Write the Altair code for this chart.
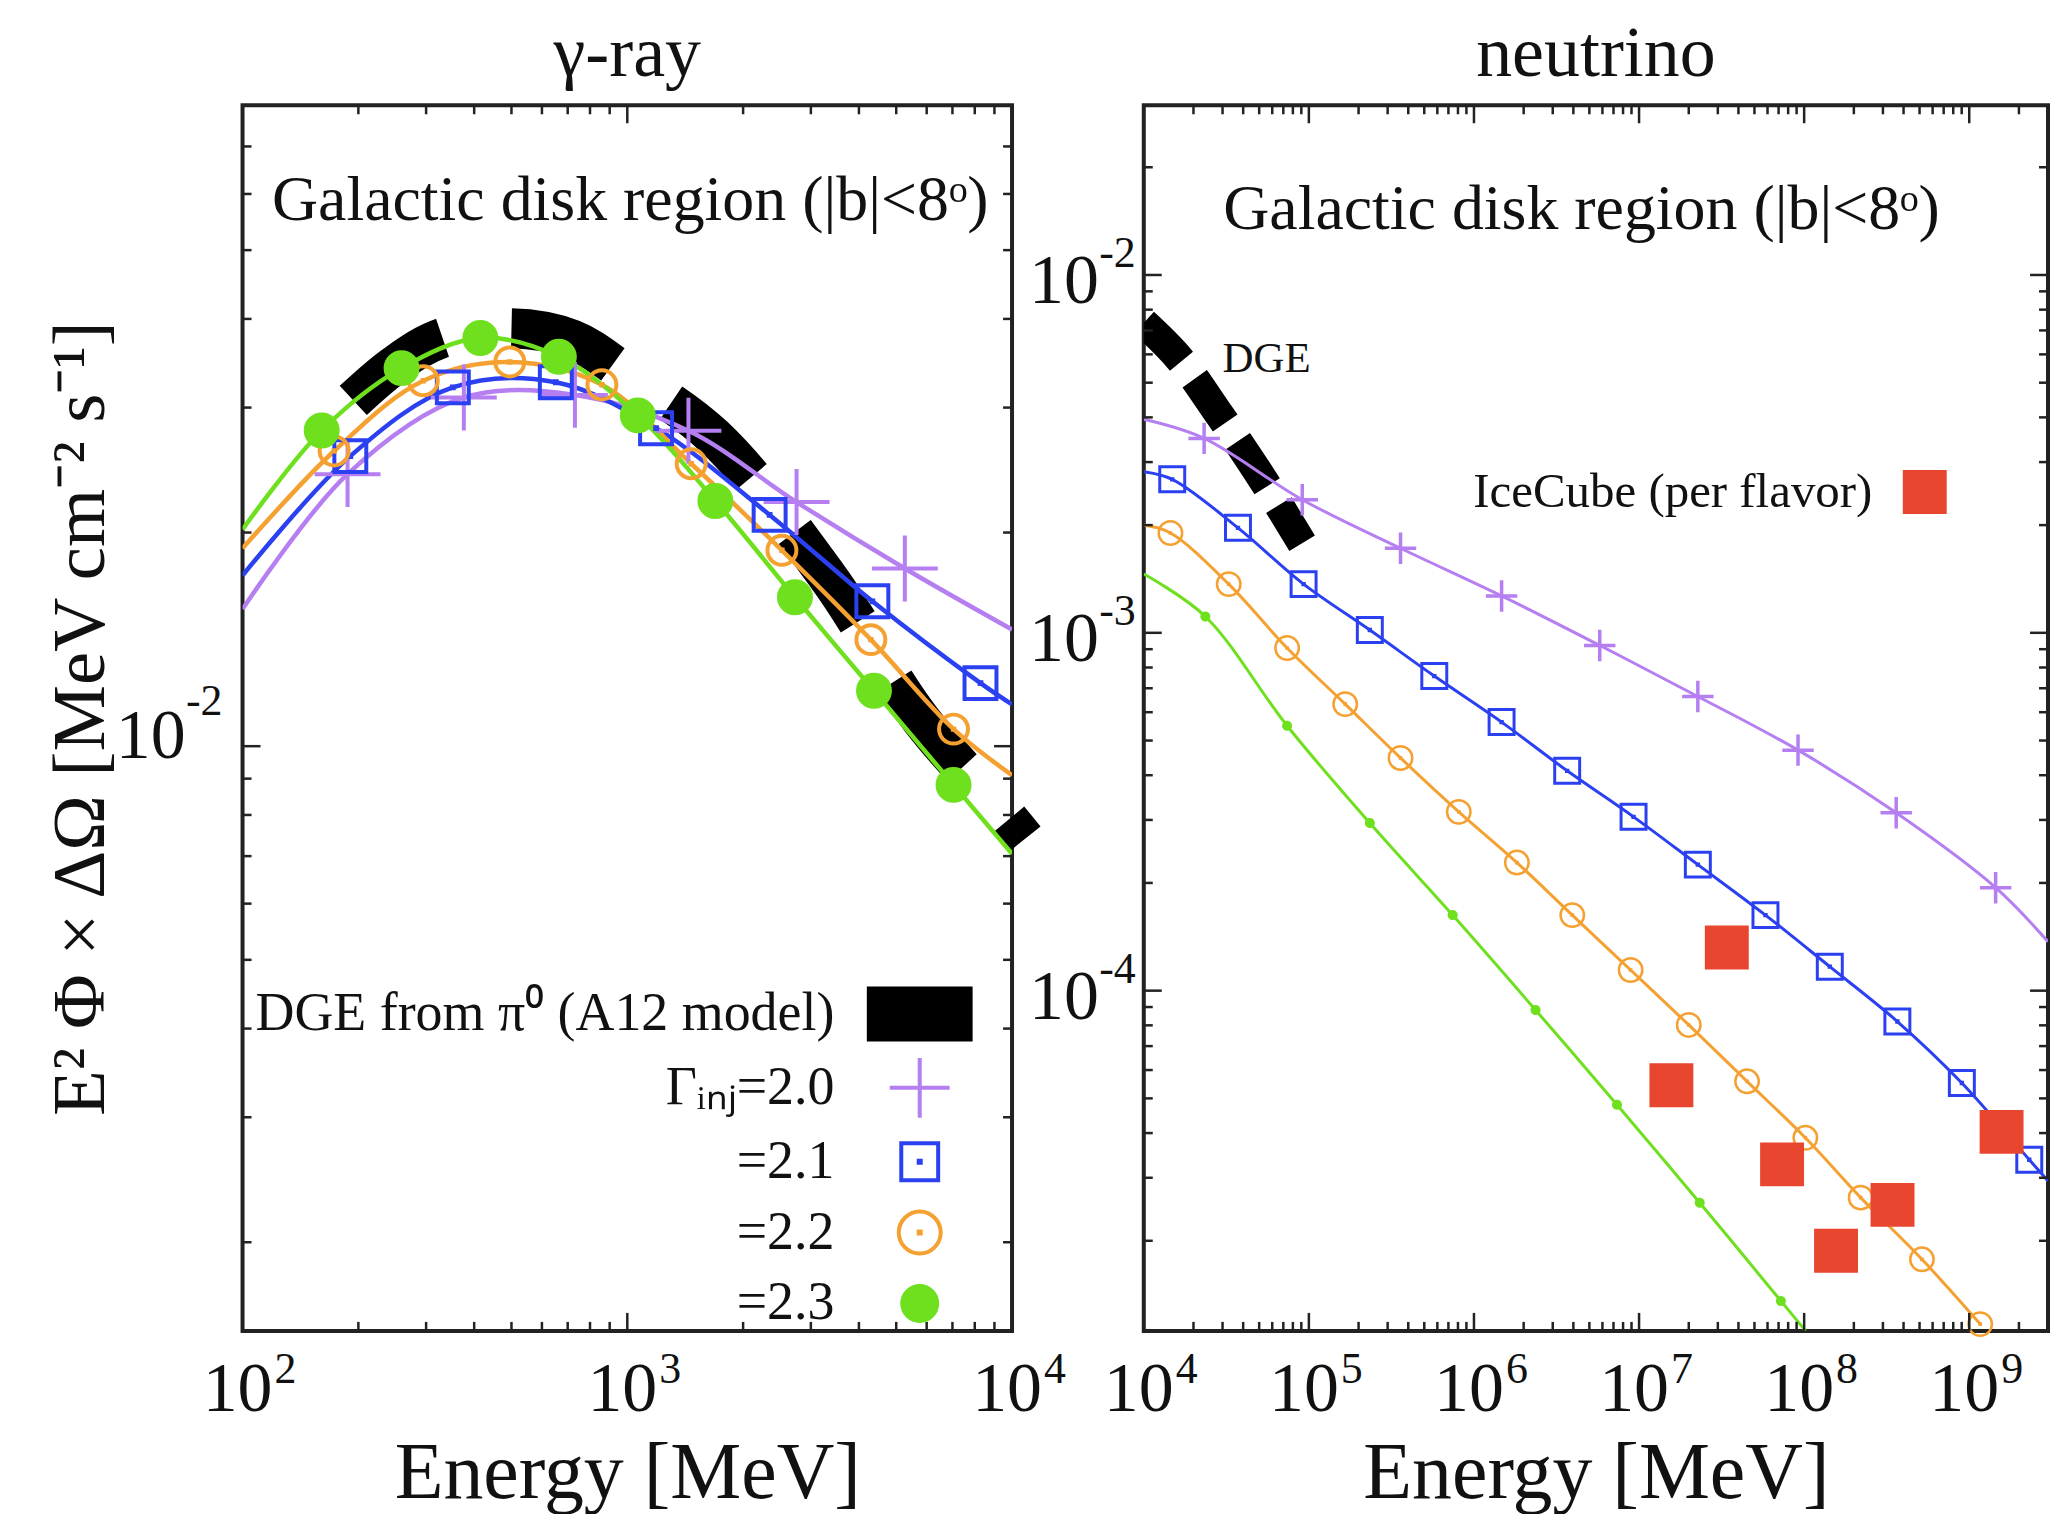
import altair as alt
import pandas as pd

SERIF = "Liberation Serif"
INK = "#111111"
FRAME = "#222222"
BLACK = "#000000"
PURPLE = "#b57ff2"
BLUE = "#2b40f0"
ORANGE = "#f5a132"
GREEN = "#6ee01e"
RED = "#e8462e"

WL, HL = 771, 1228
WR, HR = 906, 1228

# ---------------- gamma-ray panel ----------------
g20_E = [187.5, 376, 731, 1442, 2754, 5265]
g20_V = [0.02417, 0.0310, 0.03126, 0.02783, 0.02208, 0.0178]
g21_E = [190.6, 352, 652, 1188, 2344, 4335, 8280]
g21_V = [0.02563, 0.03203, 0.03257, 0.02806, 0.02118, 0.0160, 0.01227]
g22_E = [173, 295, 495, 859, 1466, 2523, 4296, 7046]
g22_V = [0.02606, 0.03273, 0.03479, 0.0323, 0.0250, 0.01888, 0.01413, 0.01057]
g23_E = [160.6, 259, 415, 664, 1065, 1694, 2728, 4377, 7046]
g23_V = [0.02785, 0.0341, 0.0376, 0.03537, 0.02925, 0.02216, 0.01621, 0.01197, 0.00882]
# where the curves meet the frame
g_edge_E = [100, 10000]
g20_edge_V = [0.0156, 0.0146]
g21_edge_V = [0.0174, 0.01145]
g22_edge_V = [0.0190, 0.0091]
g23_edge_V = [0.0202, 0.00705]
# DGE from pi0 (A12 model), read along the dashes
dge_g_E = [194, 250, 330, 500, 720, 1000, 1680, 3300, 5800, 9600, 10800]
dge_g_V = [0.0307, 0.0345, 0.0376, 0.0388, 0.0374, 0.0334, 0.0273, 0.0174, 0.0109, 0.0080, 0.0074]

# ---------------- neutrino panel ----------------
n20_E = [2.32e4, 9.12e4, 3.59e5, 1.47e6, 5.78e6, 2.27e7, 9.18e7, 3.61e8, 1.445e9]
n20_V = [3.494e-3, 2.355e-3, 1.723e-3, 1.268e-3, 9.22e-4, 6.64e-4, 4.70e-4, 3.14e-4, 1.94e-4]
n21_E = [1.487e4, 3.72e4, 9.29e4, 2.34e5, 5.75e5, 1.47e6, 3.67e6, 9.26e6, 2.27e7, 5.83e7,
         1.43e8, 3.67e8, 9.02e8, 2.31e9]
n21_V = [2.685e-3, 1.965e-3, 1.368e-3, 1.018e-3, 7.57e-4, 5.63e-4, 4.115e-4, 3.06e-4, 2.25e-4,
         1.626e-4, 1.167e-4, 8.2e-5, 5.52e-5, 3.37e-5]
n22_E = [1.45e4, 3.27e4, 7.38e4, 1.66e5, 3.59e5, 8.09e5, 1.82e6, 3.94e6, 8.89e6, 2.0e7,
         4.51e7, 1.017e8, 2.2e8, 5.17e8, 1.165e9]
n22_V = [1.901e-3, 1.368e-3, 9.07e-4, 6.32e-4, 4.47e-4, 3.16e-4, 2.28e-4, 1.626e-4, 1.142e-4,
         8.02e-5, 5.58e-5, 3.88e-5, 2.64e-5, 1.775e-5, 1.17e-5]
n23_E = [2.36e4, 7.38e4, 2.34e5, 7.43e5, 2.36e6, 7.35e6, 2.33e7, 7.23e7]
n23_V = [1.111e-3, 5.50e-4, 2.94e-4, 1.626e-4, 8.83e-5, 4.80e-5, 2.555e-5, 1.358e-5]
# where the curves enter / leave the frame
n20_edge_E, n20_edge_V = [1e4, 3e9], [3.95e-3, 1.37e-4]
n21_edge_E, n21_edge_V = [1e4, 3e9], [2.82e-3, 2.94e-5]
n22_edge_E, n22_edge_V = [1e4], [2.0e-3]
n23_edge_E, n23_edge_V = [1e4, 1.02e8], [1.46e-3, 1.12e-5]
# IceCube (per flavor)
ice_E = [1.57e7, 3.40e7, 7.35e7, 1.56e8, 3.43e8, 1.57e9]
ice_V = [5.44e-5, 1.32e-4, 3.27e-5, 1.875e-5, 2.52e-5, 4.03e-5]
# DGE (neutrino panel)
dge_n_E = [1.0e4, 1.65e4, 2.88e4, 5.24e4, 9.1e4]
dge_n_V = [7.35e-3, 5.82e-3, 4.06e-3, 2.69e-3, 1.78e-3]

# ---------------- text ----------------
NOTE = "Galactic disk region (|b|<8ᵒ)"
note_g_E, note_g_V = [1018], [0.0551]
note_n_E, note_n_V = [4.48e6], [0.01347]
dge_lab_E, dge_lab_V = [3.0e4], [5.37e-3]
DGE_NAME = "DGE from π⁰ (A12 model)"
G_NAMES = ["Γᵢₙⱼ=2.0", "=2.1", "=2.2", "=2.3"]
ICE_NAME = "IceCube (per flavor)"

# ---------------- ticks ----------------
xg_major = [100, 1000, 10000]
xg_minor = [k * d for d in (100, 1000) for k in range(2, 10)]
yg_major = [0.01]
yg_minor = [k * 0.001 for k in range(2, 10)] + [k * 0.01 for k in range(2, 8)]
xn_major = [1e4, 1e5, 1e6, 1e7, 1e8, 1e9]
xn_minor = [k * d for d in (1e4, 1e5, 1e6, 1e7, 1e8, 1e9) for k in range(2, 10) if k * d < 3e9]
yn_major = [1e-2, 1e-3, 1e-4]
yn_minor = [k * d for d in (1e-5, 1e-4, 1e-3) for k in range(2, 10)] + [2e-2]
xg_dec, xg_exp = [100, 1000, 10000], ["2", "3", "4"]
yg_dec, yg_exp = [0.01], ["-2"]
xn_dec, xn_exp = [1e4, 1e5, 1e6, 1e7, 1e8, 1e9], ["4", "5", "6", "7", "8", "9"]
yn_dec, yn_exp = [1e-2, 1e-3, 1e-4], ["-2", "-3", "-4"]

# ---------------- scales / axes ----------------
xg_scale = alt.Scale(type="log", domain=[100, 10000], nice=False)
yg_scale = alt.Scale(type="log", domain=[1.5e-3, 8.0e-2], nice=False)
xn_scale = alt.Scale(type="log", domain=[1e4, 3e9], nice=False)
yn_scale = alt.Scale(type="log", domain=[1.12e-5, 2.98e-2], nice=False)

axc = dict(labels=False, ticks=False, domain=False, grid=False, titleFont=SERIF,
           titleFontWeight="normal", titleColor=INK, titleBaseline="alphabetic")
ax_xg = alt.Axis(title="Energy [MeV]", titleFontSize=80, titlePadding=167, **axc)
ax_xn = alt.Axis(title="Energy [MeV]", titleFontSize=80, titlePadding=167, **axc)
ax_yg = alt.Axis(title="E² Φ × ΔΩ [MeV cm⁻² s⁻¹]", titleFontSize=75, titlePadding=139, **axc)


def XG():
    return alt.X("E:Q", scale=xg_scale, axis=ax_xg)


def YG():
    return alt.Y("V:Q", scale=yg_scale, axis=ax_yg)


def XN():
    return alt.X("E:Q", scale=xn_scale, axis=ax_xn)


def YN():
    return alt.Y("V:Q", scale=yn_scale, axis=None)


def line_df(E, V, eE, eV):
    df = pd.DataFrame({"E": list(E) + list(eE), "V": list(V) + list(eV)})
    return df.sort_values("E")


def tick_layers(xs_major, xs_minor, ys_major, ys_minor, X, Y, W, H):
    out = []
    for vals, L in ((xs_major, 18), (xs_minor, 9)):
        base = alt.Chart(pd.DataFrame({"E": vals})).mark_rule(color=FRAME, strokeWidth=2.5)
        out.append(base.encode(x=X(), y=alt.value(H), y2=alt.value(H - L)))
        out.append(base.encode(x=X(), y=alt.value(0), y2=alt.value(L)))
    for vals, L in ((ys_major, 18), (ys_minor, 9)):
        base = alt.Chart(pd.DataFrame({"V": vals})).mark_rule(color=FRAME, strokeWidth=2.5)
        out.append(base.encode(y=Y(), x=alt.value(0), x2=alt.value(L)))
        out.append(base.encode(y=Y(), x=alt.value(W - L), x2=alt.value(W)))
    return out


def xlabel_layers(vals, exps, X, H):
    df = pd.DataFrame({"E": vals, "exp": exps})
    b = alt.Chart(df).mark_text(font=SERIF, fontSize=70, align="center", baseline="alphabetic",
                                color=INK, dx=-5).encode(x=X(), y=alt.value(H + 80),
                                                         text=alt.value("10"))
    s = alt.Chart(df).mark_text(font=SERIF, fontSize=44, align="left", baseline="alphabetic",
                                color=INK, dx=32).encode(x=X(), y=alt.value(H + 52), text="exp:N")
    return [b, s]


def ylabel_layers(vals, exps, Y, xb, xe, dyb, dye):
    df = pd.DataFrame({"V": vals, "exp": exps})
    b = alt.Chart(df).mark_text(font=SERIF, fontSize=70, align="right", baseline="alphabetic",
                                color=INK, dy=dyb).encode(y=Y(), x=alt.value(xb), text=alt.value("10"))
    s = alt.Chart(df).mark_text(font=SERIF, fontSize=44, align="right", baseline="alphabetic",
                                color=INK, dy=dye).encode(y=Y(), x=alt.value(xe), text="exp:N")
    return [b, s]


# symbol paths, sized for a legend symbol box of 51 px; trailing moves even out the rows
ROW = "M0,-1.05M0,1.05"
RECT_P = "M-2,-1L2,-1L2,1L-2,1Z" + ROW
PLUS_P = "M-1.176,0L1.176,0M0,-1.176L0,1.176"
SQ_P = ("M-0.725,-0.725L0.725,-0.725L0.725,0.725L-0.725,0.725Z"
        "M-0.04,-0.04L0.04,-0.04L0.04,0.04L-0.04,0.04Z" + ROW)
CIR_P = ("M0.824,0A0.824,0.824 0 1,1 -0.824,0A0.824,0.824 0 1,1 0.824,0Z"
         "M-0.04,-0.04L0.04,-0.04L0.04,0.04L-0.04,0.04Z" + ROW)
DOT_P = "M0.686,0A0.686,0.686 0 1,1 -0.686,0A0.686,0.686 0 1,1 0.686,0Z" + ROW

# ================= gamma-ray chart =================
layers_g = []
layers_g.append(
    alt.Chart(pd.DataFrame({"E": dge_g_E, "V": dge_g_V}))
    .mark_line(color=BLACK, strokeWidth=40, strokeDash=[110, 70], interpolate="catmull-rom",
               clip=False)
    .encode(x=XG(), y=YG())
)
for E, V, eV, c in ((g20_E, g20_V, g20_edge_V, PURPLE), (g21_E, g21_V, g21_edge_V, BLUE),
                    (g22_E, g22_V, g22_edge_V, ORANGE), (g23_E, g23_V, g23_edge_V, GREEN)):
    layers_g.append(
        alt.Chart(line_df(E, V, g_edge_E, eV))
        .mark_line(color=c, strokeWidth=4.5, interpolate="catmull-rom", clip=True)
        .encode(x=XG(), y=YG())
    )

pts = []
for name, E, V in zip(G_NAMES, (g20_E, g21_E, g22_E, g23_E), (g20_V, g21_V, g22_V, g23_V)):
    pts.append(pd.DataFrame({"E": E, "V": V, "series": name}))
pts_df = pd.concat(pts, ignore_index=True)
names = [DGE_NAME] + G_NAMES
leg_g = alt.Legend(title=None, orient="none", legendX=651, legendY=883, labelAlign="right",
                   labelOffset={"expr": "-113"}, labelFont=SERIF, labelFontSize=54,
                   labelColor=INK, labelLimit=2000, symbolSize=2601, symbolStrokeWidth=4,
                   symbolOpacity=1, rowPadding=0, padding=0, symbolOffset=0)
marker_px = [100, 3150, 1948, 1239, 2176]   # marker areas, listed in legend order
layers_g.append(
    alt.Chart(pts_df)
    .mark_point(strokeWidth=4, opacity=1, clip=False)
    .encode(
        x=XG(), y=YG(),
        shape=alt.Shape("series:N", scale=alt.Scale(domain=names,
                        range=[RECT_P, PLUS_P, SQ_P, CIR_P, DOT_P]), legend=leg_g),
        stroke=alt.Stroke("series:N", scale=alt.Scale(domain=names,
                          range=[BLACK, PURPLE, BLUE, ORANGE, GREEN]), legend=leg_g),
        fill=alt.Fill("series:N", scale=alt.Scale(domain=names,
                      range=[BLACK, "transparent", "transparent", "transparent", GREEN]),
                      legend=leg_g),
        # domain given in reverse so this (legend-less) scale is not merged into the legend
        size=alt.Size("series:N", scale=alt.Scale(type="ordinal", domain=names[::-1],
                      range=marker_px[::-1]), legend=None),
    )
)
layers_g += tick_layers(xg_major, xg_minor, yg_major, yg_minor, XG, YG, WL, HL)
layers_g.append(
    alt.Chart(pd.DataFrame({"E": note_g_E, "V": note_g_V, "t": [NOTE]}))
    .mark_text(font=SERIF, fontSize=64, align="center", baseline="alphabetic", color=INK)
    .encode(x=XG(), y=YG(), text="t:N")
)
layers_g += xlabel_layers(xg_dec, xg_exp, XG, HL)
layers_g += ylabel_layers(yg_dec, yg_exp, YG, -57, -20, 12, -31)

left = alt.layer(*layers_g).properties(
    width=WL, height=HL,
    title=alt.Title("γ-ray", font=SERIF, fontSize=72, fontWeight="normal", color=INK,
                    offset={"expr": "-44"}, baseline="alphabetic", anchor="middle",
                    frame="group"),
)

# ================= neutrino chart =================
layers_n = []
layers_n.append(
    alt.Chart(pd.DataFrame({"E": dge_n_E, "V": dge_n_V}))
    .mark_line(color=BLACK, strokeWidth=30, strokeDash=[54, 22], interpolate="catmull-rom",
               clip=True)
    .encode(x=XN(), y=YN())
)
for E, V, eE, eV, c in ((n20_E, n20_V, n20_edge_E, n20_edge_V, PURPLE),
                        (n21_E, n21_V, n21_edge_E, n21_edge_V, BLUE),
                        (n22_E, n22_V, n22_edge_E, n22_edge_V, ORANGE),
                        (n23_E, n23_V, n23_edge_E, n23_edge_V, GREEN)):
    layers_n.append(
        alt.Chart(line_df(E, V, eE, eV))
        .mark_line(color=c, strokeWidth=3, interpolate="catmull-rom", clip=True)
        .encode(x=XN(), y=YN())
    )
for E, V, shp, sz, c, filled, sw in ((n20_E, n20_V, PLUS_P, 717, PURPLE, False, 3.5),
                                      (n21_E, n21_V, SQ_P, 1190, BLUE, False, 3),
                                      (n22_E, n22_V, CIR_P, 813, ORANGE, False, 2.5),
                                      (n23_E, n23_V, DOT_P, 213, GREEN, True, 0)):
    layers_n.append(
        alt.Chart(pd.DataFrame({"E": E, "V": V}))
        .mark_point(shape=shp, size=sz, color=c, filled=filled, strokeWidth=sw, opacity=1,
                    clip=False)
        .encode(x=XN(), y=YN())
    )
layers_n.append(
    alt.Chart(pd.DataFrame({"E": ice_E, "V": ice_V, "label": ICE_NAME}))
    .mark_square(size=1936, filled=True, opacity=1, clip=False)
    .encode(
        x=XN(), y=YN(),
        color=alt.Color("label:N", scale=alt.Scale(domain=[ICE_NAME], range=[RED]),
                        legend=alt.Legend(title=None, orient="none", legendX=758, legendY=363,
                                          labelAlign="right", labelOffset={"expr": "-77"},
                                          labelFont=SERIF, labelFontSize=49, labelColor=INK,
                                          labelLimit=2000, symbolSize=1936,
                                          symbolType="square", symbolOpacity=1,
                                          symbolStrokeWidth=0, padding=0, symbolOffset=0)),
    )
)
layers_n += tick_layers(xn_major, xn_minor, yn_major, yn_minor, XN, YN, WR, HR)
layers_n.append(
    alt.Chart(pd.DataFrame({"E": note_n_E, "V": note_n_V, "t": [NOTE]}))
    .mark_text(font=SERIF, fontSize=64, align="center", baseline="alphabetic", color=INK)
    .encode(x=XN(), y=YN(), text="t:N")
)
layers_n.append(
    alt.Chart(pd.DataFrame({"E": dge_lab_E, "V": dge_lab_V, "t": ["DGE"]}))
    .mark_text(font=SERIF, fontSize=43, align="left", baseline="alphabetic", color=INK)
    .encode(x=XN(), y=YN(), text="t:N")
)
layers_n += xlabel_layers(xn_dec, xn_exp, XN, HR)
layers_n += ylabel_layers(yn_dec, yn_exp, YN, -45, -8, 28, -8)

right = alt.layer(*layers_n).properties(
    width=WR, height=HR,
    title=alt.Title("neutrino", font=SERIF, fontSize=72, fontWeight="normal", color=INK,
                    offset={"expr": "-44"}, baseline="alphabetic", anchor="middle",
                    frame="group"),
)

chart = (
    alt.hconcat(left, right, spacing=132, bounds="flush")
    .resolve_scale(x="independent", y="independent", shape="independent",
                   stroke="independent", fill="independent", size="independent",
                   color="independent")
    .properties(padding={"left": 34, "top": 6, "right": 4, "bottom": 0}, background="white")
    .configure_view(stroke=FRAME, strokeWidth=4)
)

chart.save("out.html", embed_options={"renderer": "svg", "actions": False})
